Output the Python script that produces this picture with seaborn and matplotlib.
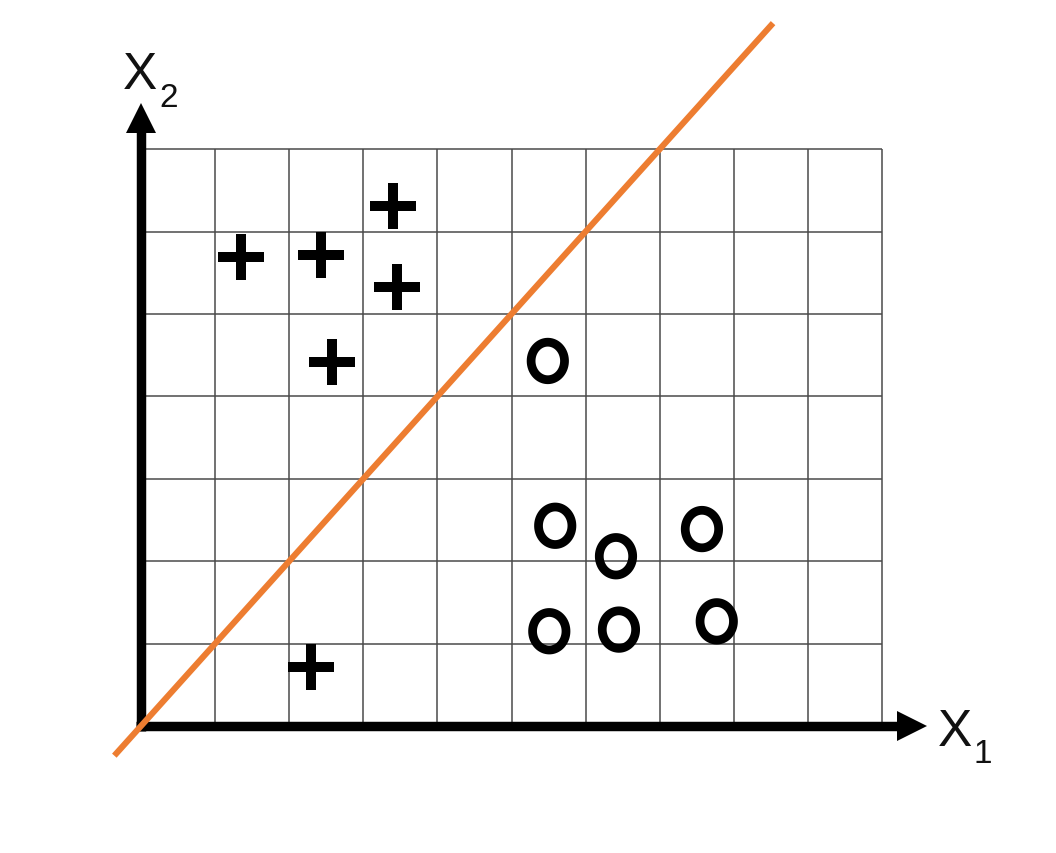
import numpy as np
import pandas as pd
import matplotlib
matplotlib.use("Agg")
import matplotlib.pyplot as plt
from matplotlib.path import Path
import seaborn as sns

# ---- data ----
plus_x = [1.35, 2.43, 3.40, 3.45, 2.58, 2.29]
plus_y = [5.69, 5.72, 6.31, 5.33, 4.42, 0.72]
circle_x = [5.49, 5.59, 6.41, 7.57, 5.51, 6.45, 7.77]
circle_y = [4.43, 2.43, 2.06, 2.39, 1.15, 1.17, 1.27]
line_x = [-0.36, 8.53]
line_y = [-0.36, 8.53]
grid_cols = list(range(1, 11))
grid_rows = list(range(1, 8))
x_label = "X"
x_sub = "1"
y_label = "X"
y_sub = "2"

sns.set_theme(style="white")
plt.rcParams["font.family"] = ["Liberation Sans", "DejaVu Sans"]

fig = plt.figure(figsize=(10.56, 8.54), dpi=100)
ax = fig.add_axes([0, 0, 1, 1])
ax.set_xlim(-141 / 74.1, (1056 - 141) / 74.1)
ax.set_ylim(-127 / 82.4, 727 / 82.4)
ax.axis("off")

# grid
ax.vlines(grid_cols, 0, 7, color="#4a4a4a", lw=1.1, zorder=1)
ax.hlines(grid_rows, 0, 10, color="#4a4a4a", lw=1.1, zorder=1)

# axes with arrows
ax.plot([-0.07, 10.25], [0, 0], color="black", lw=6.8, solid_capstyle="butt", zorder=2)
ax.plot([0, 0], [-0.06, 7.25], color="black", lw=6.8, solid_capstyle="butt", zorder=2)
ax.plot([10.40], [0], marker=">", ms=21, color="black", mew=0, zorder=2)
ax.plot([0], [7.38], marker="^", ms=21, color="black", mew=0, zorder=2)

# points
plus_df = pd.DataFrame({"x": plus_x, "y": plus_y})
circ_df = pd.DataFrame({"x": circle_x, "y": circle_y})
sns.scatterplot(data=plus_df, x="x", y="y", ax=ax, marker="+", s=1080,
                color="black", linewidth=7.2, zorder=3, legend=False)

t = np.linspace(0, 2 * np.pi, 80)
ell = Path(np.column_stack([0.89 * np.cos(t), np.sin(t)]), closed=True)
sns.scatterplot(data=circ_df, x="x", y="y", ax=ax, marker=ell, s=730,
                facecolor="none", edgecolor="black", linewidth=6.3, zorder=3,
                legend=False)

# separating line
sns.lineplot(x=line_x, y=line_y, ax=ax, color="#ED7D31", lw=4.4, zorder=4,
             solid_capstyle="butt", legend=False)

# labels
ax.text(-0.013, 7.91, y_label, fontsize=37, ha="center", va="center", color="#111111")
ax.text(0.378, 7.63, y_sub, fontsize=24, ha="center", va="center", color="#111111")
ax.text(10.985, -0.065, x_label, fontsize=37, ha="center", va="center", color="#111111")
ax.text(11.36, -0.33, x_sub, fontsize=24, ha="center", va="center", color="#111111")

ax.set_xlabel("")
ax.set_ylabel("")
fig.savefig("out.png", dpi=100)
